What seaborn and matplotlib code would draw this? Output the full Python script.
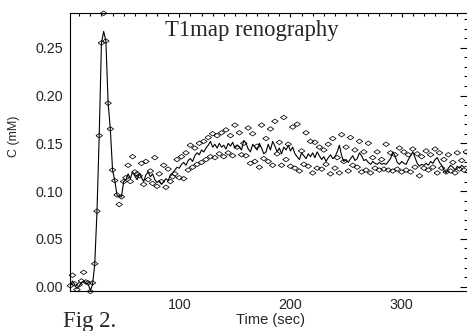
import numpy as np
import matplotlib
matplotlib.use('Agg')
import matplotlib.pyplot as plt
import seaborn as sns
from matplotlib.ticker import MultipleLocator, FormatStrFormatter

# frame times (sec), one frame every 2 s
time_sec = np.arange(2, 360, 2)

# fitted / averaged curve (mM)
conc_line = [
    0.001, 0.006, 0.002, -0.002, 0.001, 0.004, 0.006, 0.004, 0.003, -0.004,
    0.002, 0.024, 0.079, 0.158, 0.255, 0.267, 0.257, 0.192, 0.165, 0.122,
    0.111, 0.096, 0.094, 0.094, 0.110,
    0.112, 0.118, 0.113, 0.120, 0.116, 0.112, 0.118, 0.114, 0.110, 0.117,
    0.120, 0.115, 0.118, 0.112, 0.109, 0.111, 0.107, 0.110, 0.113, 0.111,
    0.117, 0.119, 0.122, 0.125, 0.124, 0.128, 0.130, 0.127, 0.132, 0.134,
    0.131, 0.137, 0.140, 0.138, 0.143, 0.141, 0.145, 0.148, 0.152, 0.146,
    0.149, 0.145, 0.150, 0.146, 0.148, 0.144, 0.150, 0.147, 0.151, 0.145,
    0.148, 0.146, 0.143, 0.153, 0.150, 0.144, 0.141, 0.149, 0.146, 0.143,
    0.150, 0.145, 0.139, 0.141, 0.149, 0.143, 0.152, 0.147, 0.141, 0.145,
    0.139, 0.146, 0.143, 0.148, 0.142, 0.146, 0.139, 0.136, 0.133, 0.140,
    0.137, 0.134, 0.139, 0.136, 0.140, 0.135, 0.141, 0.137, 0.133, 0.136,
    0.131, 0.135, 0.138, 0.134, 0.136, 0.141, 0.148, 0.137, 0.131, 0.133,
    0.130, 0.134, 0.137, 0.132, 0.134, 0.140, 0.137, 0.132, 0.133, 0.130,
    0.128, 0.131, 0.129, 0.128, 0.130, 0.128, 0.129, 0.128, 0.131, 0.134,
    0.141, 0.137, 0.130, 0.128, 0.131, 0.129, 0.128, 0.133, 0.137, 0.141,
    0.135, 0.129, 0.126, 0.128, 0.127, 0.129, 0.127, 0.131, 0.129, 0.133,
    0.135, 0.130, 0.127, 0.122, 0.119, 0.124, 0.127, 0.125, 0.122, 0.126,
    0.124, 0.127, 0.125, 0.126,
]

# measured points (diamonds)
conc_pts = [
    0.001, 0.012, 0.003, -0.003, 0.002, 0.006, 0.015, 0.005, 0.004, -0.005,
    0.004, 0.024, 0.079, 0.158, 0.255, 0.286, 0.257, 0.192, 0.165, 0.122,
    0.111, 0.096, 0.086, 0.094, 0.110,
    0.114, 0.127, 0.110, 0.136, 0.120, 0.118, 0.116, 0.129, 0.107, 0.131,
    0.112, 0.121, 0.108, 0.135, 0.105, 0.118, 0.110, 0.127, 0.104, 0.123,
    0.110, 0.115, 0.118, 0.133, 0.114, 0.136, 0.113, 0.140, 0.122, 0.148,
    0.125, 0.145, 0.128, 0.150, 0.130, 0.152, 0.133, 0.156, 0.136, 0.160,
    0.135, 0.158, 0.139, 0.161, 0.136, 0.164, 0.140, 0.158, 0.137, 0.169,
    0.146, 0.161, 0.138, 0.150, 0.137, 0.166, 0.129, 0.160, 0.131, 0.147,
    0.125, 0.169, 0.134, 0.155, 0.131, 0.165, 0.127, 0.173, 0.139, 0.151,
    0.127, 0.177, 0.133, 0.149, 0.126, 0.167, 0.124, 0.170, 0.121, 0.142,
    0.128, 0.161, 0.126, 0.152, 0.119, 0.151, 0.124, 0.146, 0.123, 0.143,
    0.128, 0.149, 0.118, 0.155, 0.124, 0.135, 0.119, 0.159, 0.131, 0.146,
    0.121, 0.156, 0.127, 0.143, 0.125, 0.152, 0.120, 0.141, 0.122, 0.150,
    0.119, 0.135, 0.124, 0.141, 0.122, 0.133, 0.123, 0.149, 0.122, 0.140,
    0.121, 0.138, 0.123, 0.145, 0.120, 0.141, 0.122, 0.138, 0.120, 0.144,
    0.125, 0.139, 0.116, 0.136, 0.124, 0.142, 0.122, 0.138, 0.125, 0.144,
    0.119, 0.140, 0.124, 0.133, 0.120, 0.138, 0.121, 0.130, 0.119, 0.140,
    0.123, 0.132, 0.122, 0.141,
]

sns.set_style('white')
plt.rcParams['font.family'] = ['Liberation Sans', 'DejaVu Sans']

W, H = 467, 331
fig = plt.figure(figsize=(W / 100, H / 100), dpi=100)
# axes box in pixels: left 70.3, right 468.4 (just past the edge), top 13, bottom 291
ax = fig.add_axes([70.3 / W, (H - 291) / H, (468.4 - 70.3) / W, (291 - 13) / H])

# wide open diamond like IDL psym=4
diamond = [(-1, 0), (0, 0.7), (1, 0), (0, -0.7), (-1, 0)]

sns.lineplot(x=time_sec, y=conc_line, color='black', linewidth=0.8,
             errorbar=None, ax=ax)
sns.scatterplot(x=time_sec, y=conc_pts, marker=diamond, s=22,
                facecolors='none', edgecolor='black', linewidth=0.55,
                clip_on=False, ax=ax, zorder=3)

ax.set_xlim(2, 360)
ax.set_ylim(-0.0045, 0.2863)

ax.xaxis.set_major_locator(MultipleLocator(100))
ax.xaxis.set_minor_locator(MultipleLocator(10))
ax.yaxis.set_major_locator(MultipleLocator(0.05))
ax.yaxis.set_minor_locator(MultipleLocator(0.01))
ax.yaxis.set_major_formatter(FormatStrFormatter('%.2f'))

ax.tick_params(axis='both', which='both', direction='in', top=True, right=True,
               color='black', width=0.8, labelsize=10.3)
ax.tick_params(axis='x', which='major', length=3.2, pad=5)
ax.tick_params(axis='x', which='minor', length=2.0)
ax.tick_params(axis='y', which='major', length=5.8, pad=5)
ax.tick_params(axis='y', which='minor', length=2.8)
for sp in ax.spines.values():
    sp.set_visible(True)
    sp.set_color('black')
    sp.set_linewidth(0.8)

ax.set_xlabel('')
ax.set_ylabel('')
fig.text(270 / W, 1 - 313 / H, 'Time (sec)', ha='center', va='top', fontsize=10.5)
fig.text(14 / W, 1 - 136 / H, 'C (mM)', ha='center', va='center',
         rotation=90, fontsize=9)

fig.text(251.7 / W, 1 - 36 / H, 'T1map renography', ha='center', va='baseline',
         fontsize=16.4, family=['Liberation Serif', 'DejaVu Serif'])
fig.text(63.3 / W, 1 - 327 / H, 'Fig 2.', ha='left', va='baseline',
         fontsize=16.4, family=['Liberation Serif', 'DejaVu Serif'])

fig.savefig('out.png', dpi=100)
